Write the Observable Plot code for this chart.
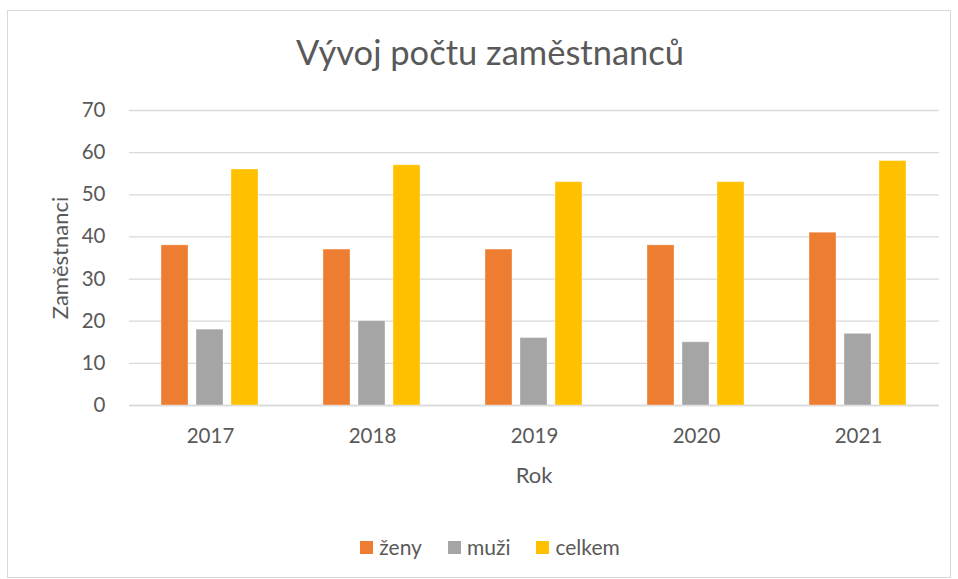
<!DOCTYPE html>
<html>
<head>
<meta charset="utf-8">
<script src="https://cdn.jsdelivr.net/npm/d3@7"></script>
<script src="https://cdn.jsdelivr.net/npm/@observablehq/plot@0.6"></script>
<style>
  html, body { margin: 0; padding: 0; background: #fff; }
  #wrap { position: relative; width: 958px; height: 579px; font-family: Lato, "Open Sans", sans-serif; color: #595959; overflow: hidden; }
  #frame { position: absolute; left: 7px; top: 10px; width: 944px; height: 568px; border: 1px solid #d9d9d9; box-sizing: border-box; }
  #title { position: absolute; left: 0; width: 980px; top: 31px; text-align: center; font-size: 34.5px; line-height: 42px; }
  #xlabel { position: absolute; left: 434px; width: 200px; top: 461px; text-align: center; font-size: 22px; line-height: 28px; }
  #ylabel { position: absolute; left: 60px; top: 258px; transform: translate(-50%, -50%) rotate(-90deg); font-size: 22px; line-height: 28px; white-space: nowrap; }
  #legend { position: absolute; top: 533px; left: 0; width: 980px; display: flex; justify-content: center; gap: 26px; font-size: 21px; line-height: 28px; }
  #legend span.item { display: inline-flex; align-items: center; }
  #legend span.sw { display: inline-block; width: 13px; height: 13px; margin-right: 6px; }
  #chart { position: absolute; left: 0; top: 0; }
</style>
</head>
<body>
<div id="wrap">
  <div id="frame"></div>
  <div id="chart"></div>
  <div id="title">Vývoj počtu zaměstnanců</div>
  <div id="ylabel">Zaměstnanci</div>
  <div id="xlabel">Rok</div>
  <div id="legend"></div>
</div>
<script>
const years = ["2017", "2018", "2019", "2020", "2021"];
const seriesNames = ["ženy", "muži", "celkem"];
const zeny = [38, 37, 37, 38, 41];
const muzi = [18, 20, 16, 15, 17];
const celkem = [56, 57, 53, 53, 58];
const colors = ["#ED7D31", "#A5A5A5", "#FFC000"];
const yTicks = [0, 10, 20, 30, 40, 50, 60, 70];

const seriesValues = [zeny, muzi, celkem];
const data = [];
years.forEach((yr, i) => {
  seriesNames.forEach((s, j) => data.push({year: yr, series: s, value: seriesValues[j][i]}));
});

const chart = Plot.plot({
  width: 958,
  height: 579,
  marginTop: 110,
  marginBottom: 174,
  marginLeft: 128,
  marginRight: 18,
  style: {fontFamily: "Lato, 'Open Sans', sans-serif", fontSize: "20.5px", color: "#595959", background: "transparent"},
  fx: {domain: years, padding: 0, label: null},
  x: {domain: seriesNames, paddingInner: 0.222, paddingOuter: 0.867, axis: null},
  y: {domain: [0, 70], label: null},
  color: {domain: seriesNames, range: colors},
  marks: [
    Plot.gridY(yTicks, {stroke: "#d9d9d9", strokeOpacity: 1, strokeWidth: 1.3}),
    Plot.ruleY([0], {stroke: "#d9d9d9", strokeWidth: 1.3}),
    Plot.barY(data, {fx: "year", x: "series", y: "value", fill: "series", stroke: "#ffffff", strokeOpacity: 0.35, strokeWidth: 1}),
    Plot.axisY(yTicks, {tickSize: 0, tickPadding: 24, label: null, fill: "#595959"}),
    Plot.axisFx({anchor: "bottom", tickSize: 0, tickPadding: 23, label: null, fill: "#595959"})
  ]
});
document.getElementById("chart").appendChild(chart);

const legend = document.getElementById("legend");
seriesNames.forEach((s, j) => {
  const item = document.createElement("span");
  item.className = "item";
  const sw = document.createElement("span");
  sw.className = "sw";
  sw.style.background = colors[j];
  item.appendChild(sw);
  item.appendChild(document.createTextNode(s));
  legend.appendChild(item);
});
</script>
</body>
</html>
